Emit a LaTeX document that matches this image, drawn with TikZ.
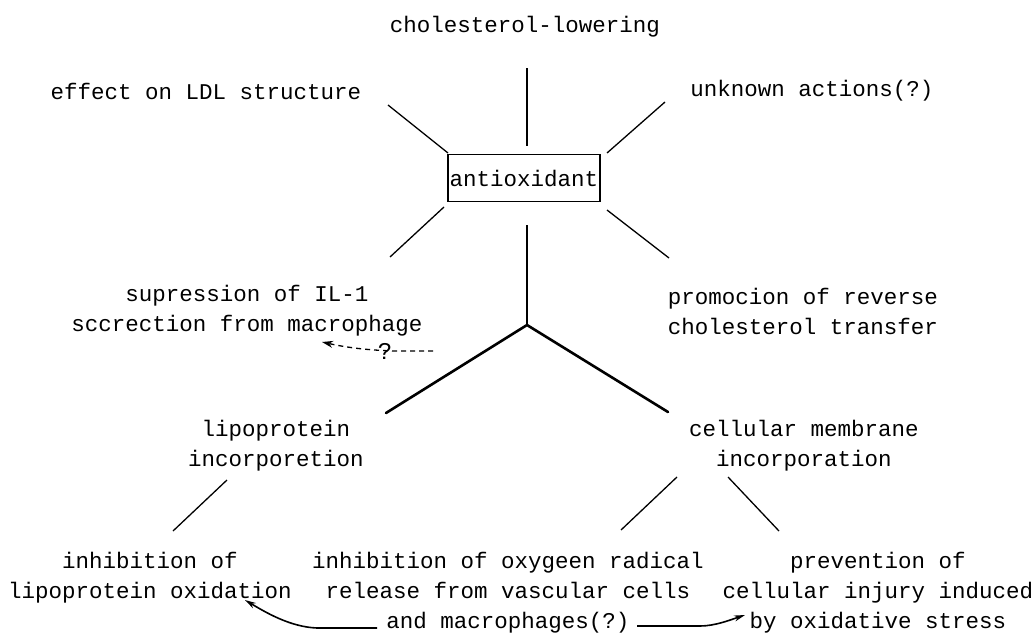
\documentclass[tikz,border=0pt]{standalone}
\usepackage{fontspec}
\newfontfamily\monofont{Liberation Mono}
\usetikzlibrary{arrows.meta}
\begin{document}
\begin{tikzpicture}[x=1pt,y=-1pt,
  lbl/.style={font=\monofont\fontsize{22.5}{30}\selectfont, align=center, inner sep=0pt},
  ln/.style={line width=1.3pt},
  thickln/.style={line width=2.6pt},
  arr/.style={line width=1.6pt, -{Stealth[length=11pt,width=6pt]}},
  dasharr/.style={line width=1.3pt, dash pattern=on 5pt off 4pt, -{Stealth[length=11pt,width=7pt]}}]
\useasboundingbox (0,0) rectangle (1036,637);
\fill[white] (0,0) rectangle (1036,637);

% nodes
\node[lbl] (chol) at (525,27) {cholesterol-lowering};
\node[lbl] (effect) at (206,91) {effect on LDL structure};
\node[lbl] (unknown) at (812,91) {unknown actions(?)};
\node[draw, line width=1.3pt, minimum width=152pt, minimum height=47pt, inner sep=0pt,
      font=\monofont\fontsize{22.5}{30}\selectfont] (anti) at (524,178) {antioxidant};
\node[lbl] (supp) at (247,311) {supression of IL-1\\sccrection from macrophage};
\node[lbl] (promo) at (803,311) {promocion of reverse\\cholesterol transfer};
\node[lbl] (lipo) at (276,446) {lipoprotein\\incorporetion};
\node[lbl] (cell) at (804,446) {cellular membrane\\incorporation};
\node[lbl] (inhlip) at (150,578) {inhibition of\\lipoprotein oxidation};
\node[lbl] (inhox) at (508,593) {inhibition of oxygeen radical\\release from vascular cells\\and macrophages(?)};
\node[lbl] (prev) at (878,593) {prevention of\\cellular injury induced\\by oxidative stress};
\node[font=\monofont\fontsize{24}{24}\selectfont, inner sep=0pt] (q) at (385,351) {?};

% coordinates
\coordinate (cholS) at (527,68);
\coordinate (cholE) at (527,146);
\coordinate (effS) at (388,105);
\coordinate (effE) at (448,153);
\coordinate (unkS) at (665,102);
\coordinate (unkE) at (607,153);
\coordinate (suppS) at (444,207);
\coordinate (suppE) at (390,257);
\coordinate (promS) at (607,210);
\coordinate (promE) at (669,258);
\coordinate (vS) at (527,225);
\coordinate (j) at (527,325);
\coordinate (lipoE) at (386,413);
\coordinate (cellE) at (668,412);
\coordinate (lipoS2) at (227,480);
\coordinate (inhlipE) at (173,531);
\coordinate (cellS2) at (677,477);
\coordinate (inhoxE) at (621,530);
\coordinate (cellS3) at (728,477);
\coordinate (prevE) at (779,531);
\coordinate (dS) at (433,351);
\coordinate (dM) at (395,351);
\coordinate (dE) at (322,342);
\coordinate (aLS) at (377,628);
\coordinate (aLM) at (317,628);
\coordinate (aLE) at (245,600);
\coordinate (aRS) at (637,626);
\coordinate (aRM) at (700,626);
\coordinate (aRE) at (745,615);

% connectors
\draw[ln] (cholS) -- (cholE);
\draw[ln] (effS) -- (effE);
\draw[ln] (unkS) -- (unkE);
\draw[ln] (suppS) -- (suppE);
\draw[ln] (promS) -- (promE);
\draw[ln] (vS) -- (j);
\draw[thickln, line cap=round] (lipoE) -- (j) -- (cellE);
\draw[ln] (lipoS2) -- (inhlipE);
\draw[ln] (cellS2) -- (inhoxE);
\draw[ln] (cellS3) -- (prevE);
\draw[dasharr] (dS) -- (dM) .. controls (360,350) and (340,346) .. (dE);
\draw[arr] (aLS) -- (aLM) .. controls (290,627) and (265,612) .. (aLE);
\draw[arr] (aRS) -- (aRM) .. controls (715,626) and (730,620) .. (aRE);
\end{tikzpicture}
\end{document}
